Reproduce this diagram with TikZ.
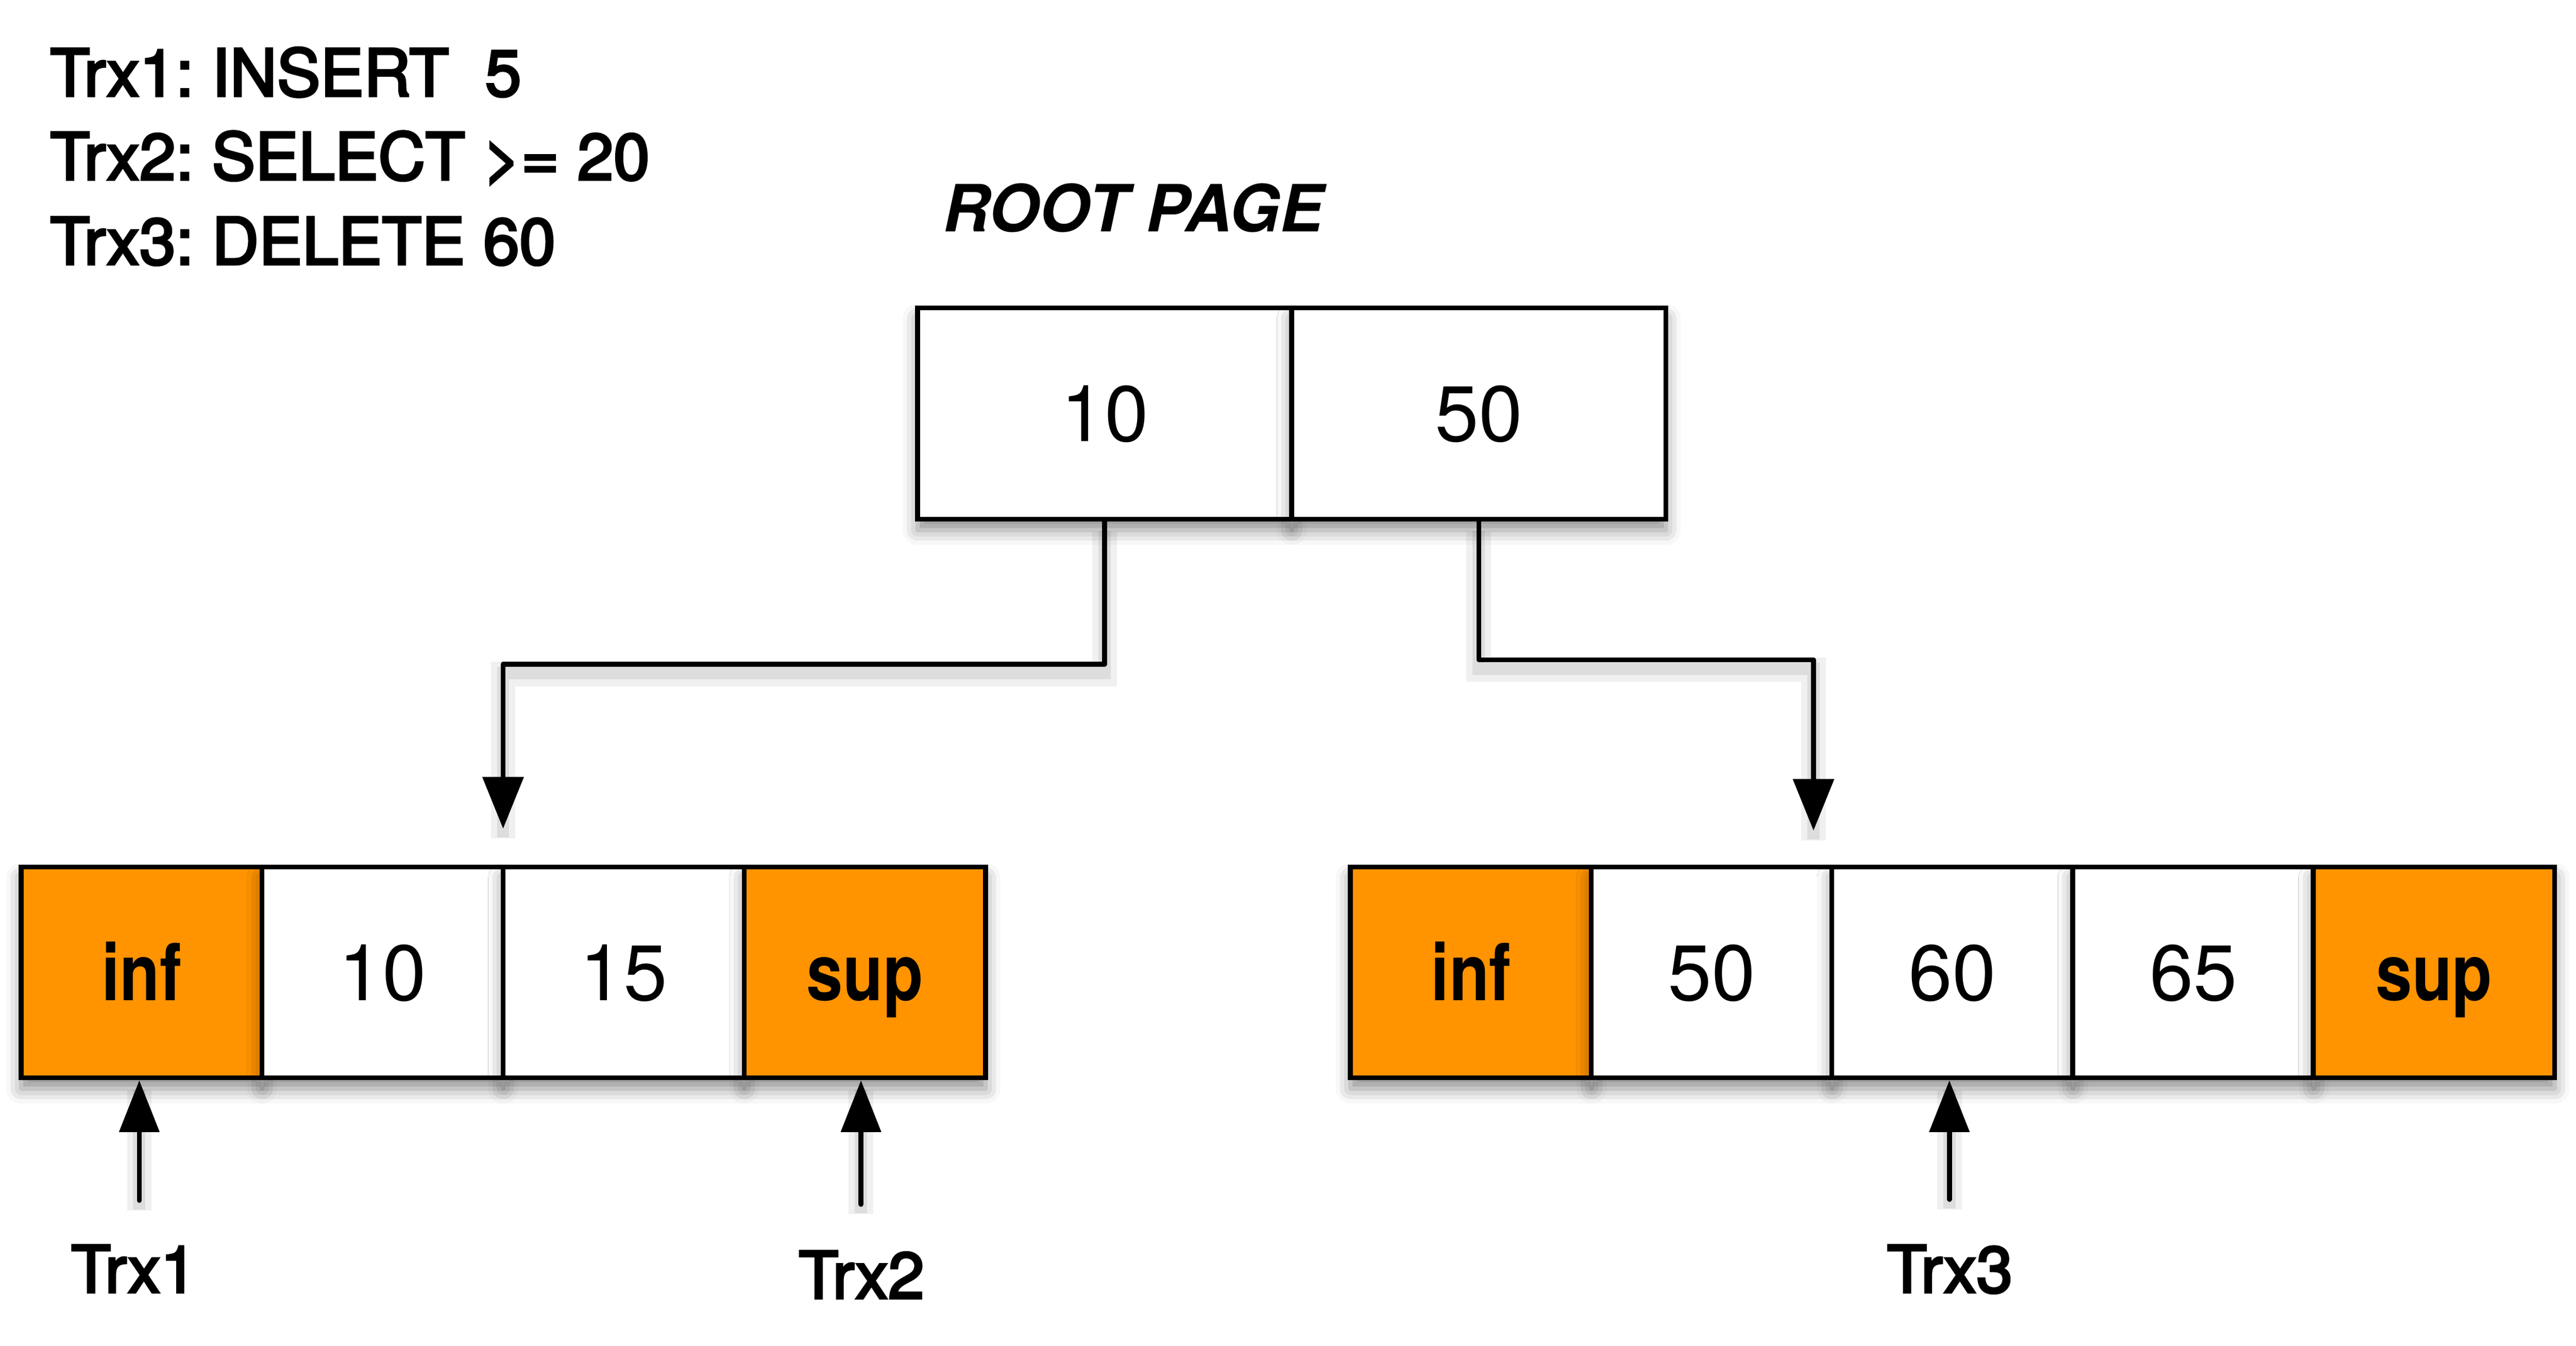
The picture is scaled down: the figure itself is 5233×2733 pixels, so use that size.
\documentclass[tikz,border=0pt]{standalone}
\usepackage{fontspec}
\setmainfont{TeX Gyre Heros}
\newfontfamily\medfont{TeX Gyre Heros}[FakeBold=3.5]
\usetikzlibrary{arrows.meta,shadows.blur}
\definecolor{apporange}{RGB}{255,147,0}
\frenchspacing
\begin{document}
\begin{tikzpicture}[x=0.01cm,y=-0.01cm,
  cellbox/.style={draw, line width=0.1cm, minimum width=4.9cm, minimum height=4.28cm,
    inner sep=0pt, fill=white, text height=1.13cm, text depth=0pt,
    blur shadow={shadow xshift=0cm, shadow yshift=-0.22cm, shadow blur radius=0.3cm, shadow opacity=45},
    font=\fontsize{45.5}{50}\selectfont},
  endbox/.style={cellbox, fill=apporange},
  rootbox/.style={cellbox, minimum width=7.6cm, minimum height=4.29cm},
  toptext/.style={anchor=base west, inner sep=0pt, font=\medfont\fontsize{37.6}{45}\selectfont},
  trxlabel/.style={anchor=base, inner sep=0pt, font=\medfont\fontsize{37.6}{45}\selectfont},
  connshadow/.style={
    preaction={draw=black, opacity=0.06, line width=0.5cm, -, transform canvas={yshift=-0.2cm}},
    preaction={draw=black, opacity=0.08, line width=0.25cm, -, transform canvas={yshift=-0.18cm}}},
  conn/.style={draw, line width=0.1cm, line join=round, line cap=round,
    -{Triangle[length=1.05cm,width=0.82cm]}, connshadow},
  uparrow/.style={draw, line width=0.1cm, line cap=round,
    -{Triangle[length=1.05cm,width=0.8cm]}, connshadow}
]
\useasboundingbox (0,0) rectangle (5233,2733);

% transaction list
\node[toptext] (tx1) at (101,195) {Trx1: INSERT\ \ 5};
\node[toptext] (tx2) at (101,365) {Trx2: SELECT >= 20};
\node[toptext] (tx3) at (101,537) {Trx3: DELETE 60};

% root page title
\node[anchor=base, inner sep=0pt, font=\fontsize{37.6}{45}\selectfont\bfseries\itshape] (roottitle) at (2302,470) {ROOT PAGE};

% root page
\node[rootbox] (r1) at (2244,840) {10};
\node[rootbox] (r2) at (3004,840) {50};

% left leaf
\node[endbox]  (l1) at (288,1975)  {\scalebox{0.83}[1]{\bfseries inf}};
\node[cellbox] (l2) at (777.5,1975) {10};
\node[cellbox] (l3) at (1267,1975) {15};
\node[endbox]  (l4) at (1757,1975) {\scalebox{0.83}[1]{\bfseries sup}};

% right leaf
\node[endbox]  (m1) at (2988.5,1975) {\scalebox{0.83}[1]{\bfseries inf}};
\node[cellbox] (m2) at (3477.5,1975) {50};
\node[cellbox] (m3) at (3966.5,1975) {60};
\node[cellbox] (m4) at (4455.5,1975) {65};
\node[endbox]  (m5) at (4944.5,1975) {\scalebox{0.83}[1]{\bfseries sup}};

% connectors from root
\coordinate (aL) at (1022,1349);
\coordinate (eL) at (1022,1683);
\coordinate (aR) at (3684,1340);
\coordinate (eR) at (3684,1687);
\draw[conn] (r1.south) |- (aL) -- (eL);
\draw[conn] (r2.south) |- (aR) -- (eR);

% transaction pointers
\coordinate (t1) at (283,2438);
\coordinate (t2) at (1749,2446);
\coordinate (t3) at (3960,2436);
\draw[uparrow] (t1) -- (t1 |- l1.south);
\draw[uparrow] (t2) -- (t2 |- l4.south);
\draw[uparrow] (t3) -- (t3 |- m3.south);

\node[trxlabel] (lab1) at (272,2625) {Trx1};
\node[trxlabel] (lab2) at (1750,2637) {Trx2};
\node[trxlabel] (lab3) at (3961,2625) {Trx3};
\end{tikzpicture}
\end{document}
